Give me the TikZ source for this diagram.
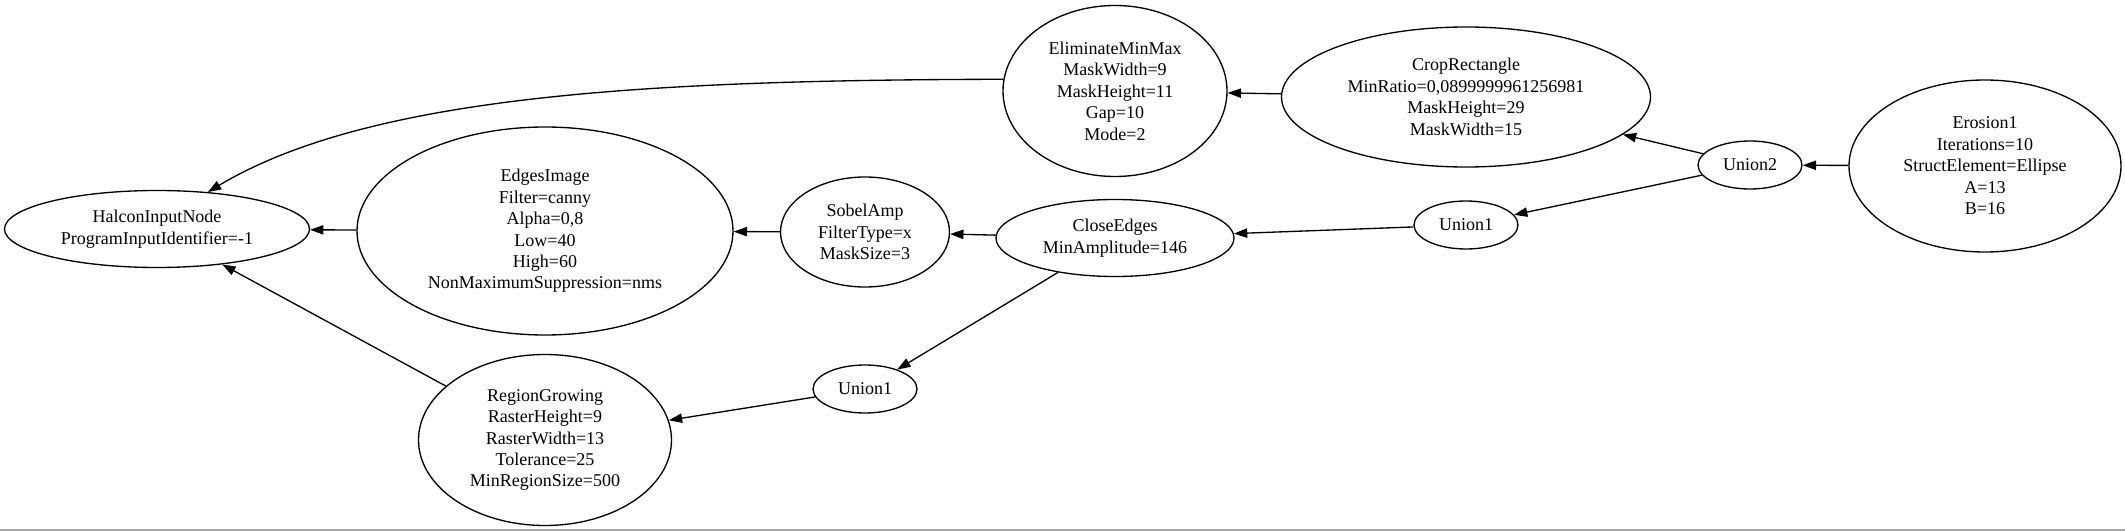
\documentclass[tikz,border=0pt]{standalone}
\usepackage{fontspec}
\setmainfont{Liberation Serif}
\usetikzlibrary{shapes.geometric,arrows.meta}
\definecolor{frame}{HTML}{A8A8A8}
\tikzset{
    op/.style 2 args={draw, ellipse, line width=1pt, inner sep=0pt, align=center,
        minimum width=#1, minimum height=#2,
        font=\fontsize{13.5}{16.1}\selectfont},
    flow/.style={-{Triangle[length=10pt,width=7pt]}, line width=1pt},
}

\begin{document}
\begin{tikzpicture}[x=0.75pt, y=-0.75pt]
        \useasboundingbox (0,0) rectangle (2125,531);
        \fill[frame] (0,529) rectangle (2125,531);

        \node[op={228.75pt}{57.75pt}] (halcon) at (157,229) {HalconInputNode\\ProgramInputIdentifier=-1};
        \node[op={282pt}{156pt}] (edges) at (545,231) {EdgesImage\\Filter=canny\\Alpha=0,8\\Low=40\\High=60\\NonMaximumSuppression=nms};
        \node[op={126.75pt}{82.5pt}] (sobel) at (865,232) {SobelAmp\\FilterType=x\\MaskSize=3};
        \node[op={178.5pt}{57.75pt}] (close) at (1115,238) {CloseEdges\\MinAmplitude=146};
        \node[op={78pt}{36pt}] (unionA) at (1466,225) {Union1};
        \node[op={78pt}{36pt}] (unionB) at (1750,165) {Union2};
        \node[op={204pt}{129pt}] (erosion) at (1985,166) {Erosion1\\Iterations=10\\StructElement=Ellipse\\A=13\\B=16};
        \node[op={276.75pt}{105pt}] (crop) at (1466,97) {CropRectangle\\MinRatio=0,0899999961256981\\MaskHeight=29\\MaskWidth=15};
        \node[op={168pt}{128.25pt}] (elim) at (1115,91) {EliminateMinMax\\MaskWidth=9\\MaskHeight=11\\Gap=10\\Mode=2};
        \node[op={78pt}{36pt}] (unionC) at (865,389) {Union1};
        \node[op={189.75pt}{128.25pt}] (region) at (545,440) {RegionGrowing\\RasterHeight=9\\RasterWidth=13\\Tolerance=25\\MinRegionSize=500};

        \draw[flow] (erosion) -- (unionB);
        \draw[flow] (unionB) -- (crop);
        \draw[flow] (unionB) -- (unionA);
        \draw[flow] (crop) -- (elim);
        \draw[flow] (elim.174) .. controls (650,80) and (370,95) .. (halcon.36);
        \draw[flow] (unionA) -- (close);
        \draw[flow] (close) -- (sobel);
        \draw[flow] (sobel) -- (edges);
        \draw[flow] (edges) -- (halcon);
        \draw[flow] (close) -- (unionC);
        \draw[flow] (unionC) -- (region);
        \draw[flow] (region) -- (halcon);

\end{tikzpicture}
\end{document}
